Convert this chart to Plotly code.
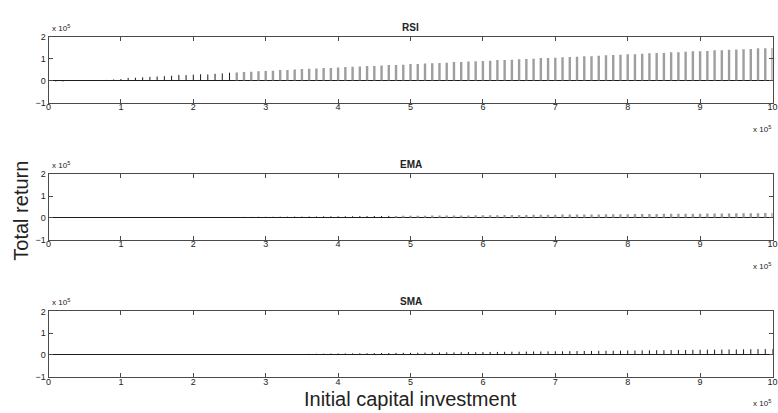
import plotly.graph_objects as go

# Initial capital (dollars): 10k to 1M in 10k steps
capital = list(range(10000, 1000001, 10000))

# Total return for each strategy (dollars)
rsi_return = [
    -3000, -3000, 0, 500, 0, 1000, 500, 4000, 6000, 8000,
    13000, 14000, 16000, 18000, 20000, 21000, 23000, 27000, 26000, 28000,
    30000, 29000, 32000, 34000, 37000, 38000, 40000, 41000, 44000, 45000,
    46000, 49000, 49000, 52000, 54000, 55000, 56000, 59000, 59000, 61000,
    63000, 64000, 65000, 68000, 68000, 70000, 73000, 73000, 74000, 77000,
    77000, 79000, 81000, 82000, 83000, 86000, 86000, 88000, 90000, 91000,
    92000, 95000, 95000, 97000, 99000, 100000, 101000, 104000, 104000, 106000,
    108000, 109000, 110000, 113000, 113000, 115000, 117000, 118000, 119000, 122000,
    122000, 124000, 126000, 127000, 128000, 131000, 131000, 133000, 135000, 136000,
    137000, 140000, 140000, 142000, 144000, 145000, 146000, 149000, 149000, 151000,
]
ema_return = [
    0, 0, 0, 0, 0, 0, 0, 0, 0, 0,
    1000, 1000, 1500, 1500, 2000, 2000, 2500, 2500, 3000, 3000,
    3000, 3500, 3500, 4000, 4000, 4000, 4500, 4500, 5000, 5000,
    5000, 5500, 5500, 6000, 6000, 6500, 6500, 7000, 7000, 7000,
    7500, 7500, 8000, 8000, 8500, 8500, 9000, 9000, 9500, 9500,
    10000, 10000, 10500, 10500, 11000, 11000, 11500, 11500, 12000, 12000,
    12500, 12500, 13000, 13000, 13500, 13500, 14000, 14000, 14500, 14500,
    15000, 15000, 15500, 15500, 16000, 16000, 16500, 16500, 17000, 17000,
    17500, 17500, 18000, 18000, 18500, 18500, 19000, 19000, 19500, 19500,
    20000, 20000, 20500, 20500, 21000, 21000, 21500, 21500, 22000, 22000,
]
sma_return = [
    0, 0, 0, 0, 0, 0, 0, 0, 0, 0,
    500, 500, 500, 1000, 1000, 1000, 1000, 1500, 1500, 1500,
    1500, 2000, 2000, 2000, 2000, 2500, 2500, 2500, 3000, 3000,
    3500, 3500, 4000, 4500, 4500, 5000, 5500, 6000, 6500, 7000,
    7000, 7500, 8000, 8000, 8500, 9000, 9000, 9500, 10000, 10000,
    10500, 11000, 11000, 11500, 12000, 12000, 12500, 13000, 13000, 13500,
    14000, 14000, 14500, 15000, 15000, 15500, 16000, 16000, 16500, 17000,
    17000, 17500, 18000, 18500, 18500, 19000, 19500, 19500, 20000, 20500,
    20500, 21000, 21500, 22000, 22000, 22500, 23000, 23000, 23500, 24000,
    24500, 24500, 25000, 25500, 25500, 26000, 26500, 27000, 27000, 27500,
]

panel_titles = ["RSI", "EMA", "SMA"]
x_tick_vals = [0, 100000, 200000, 300000, 400000, 500000, 600000, 700000, 800000, 900000, 1000000]
x_tick_text = ["0", "1", "2", "3", "4", "5", "6", "7", "8", "9", "10"]
y_tick_vals = [-100000, 0, 100000, 200000]
y_tick_text = ["\u22121", "0", "1", "2"]

W, H = 778, 413
FONT = "Liberation Sans, Arial, Helvetica, sans-serif"
TXT = "#222222"
AXC = "#4a4a4a"

# panel boxes in pixels (top, bottom)
panels_px = [(33, 100), (173.5, 240.5), (314, 381)]
x_left, x_right = 46, 777.5
# stems drawn softer/greyer from this index on (per panel)
grey_from = [25, 47, 1000]

series = [rsi_return, ema_return, sma_return]


def stem_segments(xs, ys):
    """Vertical segments from the zero baseline to each value."""
    sx, sy = [], []
    for xv, yv in zip(xs, ys):
        sx += [xv, xv, None]
        sy += [0, yv, None]
    return sx, sy


fig = go.Figure()
layout = dict(
    width=W, height=H,
    margin=dict(l=0, r=0, t=0, b=0),
    paper_bgcolor="white", plot_bgcolor="white",
    showlegend=False,
    font=dict(family=FONT, size=9, color=TXT),
    annotations=[],
)

for k, (vals, title) in enumerate(zip(series, panel_titles)):
    n = k + 1
    xa = "x" if n == 1 else f"x{n}"
    ya = "y" if n == 1 else f"y{n}"
    g = grey_from[k]
    dx, dy = stem_segments(capital[:g], vals[:g])
    fig.add_trace(go.Scatter(
        x=dx, y=dy, xaxis=xa, yaxis=ya, mode="lines",
        line=dict(color="#1c1c1c", width=1), hoverinfo="skip",
    ))
    if g < len(vals):
        gx, gy = stem_segments(capital[g:], vals[g:])
        fig.add_trace(go.Scatter(
            x=gx, y=gy, xaxis=xa, yaxis=ya, mode="lines",
            line=dict(color="rgba(120,120,120,0.72)", width=2.4), hoverinfo="skip",
        ))
    top, bot = panels_px[k]
    ydom = [1 - bot / H, 1 - top / H]
    xdom = [x_left / W, x_right / W]
    axis_common = dict(
        showline=True, linecolor=AXC, linewidth=1, mirror="ticks",
        ticks="inside", ticklen=4, tickcolor=AXC, tickwidth=1,
        showgrid=False, tickfont=dict(family=FONT, size=9, color=TXT),
    )
    layout["xaxis" if n == 1 else f"xaxis{n}"] = dict(
        axis_common, domain=xdom, range=[0, 1000000],
        tickmode="array", tickvals=x_tick_vals, ticktext=x_tick_text,
        anchor=ya, zeroline=False, ticklabeloverflow="allow",
        ticklabelstandoff=-4,
    )
    layout["yaxis" if n == 1 else f"yaxis{n}"] = dict(
        axis_common, domain=ydom, range=[-100000, 200000],
        tickmode="array", tickvals=y_tick_vals, ticktext=y_tick_text,
        anchor=xa, zeroline=True, zerolinecolor="#1c1c1c", zerolinewidth=1,
    )
    # panel title
    layout["annotations"].append(dict(
        text=f"<b>{title}</b>", x=(x_left + x_right) / 2 / W, y=1 - (top - 10) / H,
        xref="paper", yref="paper", showarrow=False, xanchor="center", yanchor="middle",
        font=dict(family=FONT, size=10, color=TXT),
    ))
    # y-axis exponent
    layout["annotations"].append(dict(
        text="x 10<sup>5</sup>", x=(x_left + 1) / W, y=1 - (top - 2) / H,
        xref="paper", yref="paper", showarrow=False, xanchor="left", yanchor="bottom",
        font=dict(family=FONT, size=8, color=TXT),
    ))
    # x-axis exponent
    layout["annotations"].append(dict(
        text="x 10<sup>5</sup>", x=1.0, y=1 - (bot + 27) / H,
        xref="paper", yref="paper", showarrow=False, xanchor="right", yanchor="middle",
        font=dict(family=FONT, size=8, color=TXT),
    ))

layout["annotations"].append(dict(
    text="Total return", x=18 / W, y=1 - 211 / H, xref="paper", yref="paper",
    showarrow=False, textangle=-90, xanchor="center", yanchor="middle",
    font=dict(family=FONT, size=20, color=TXT),
))
layout["annotations"].append(dict(
    text="Initial capital investment", x=(x_left + x_right) / 2 / W, y=1 - 404 / H,
    xref="paper", yref="paper", showarrow=False, xanchor="center", yanchor="middle",
    font=dict(family=FONT, size=20, color=TXT),
))

fig.update_layout(**layout)
fig.write_html("out.html")
